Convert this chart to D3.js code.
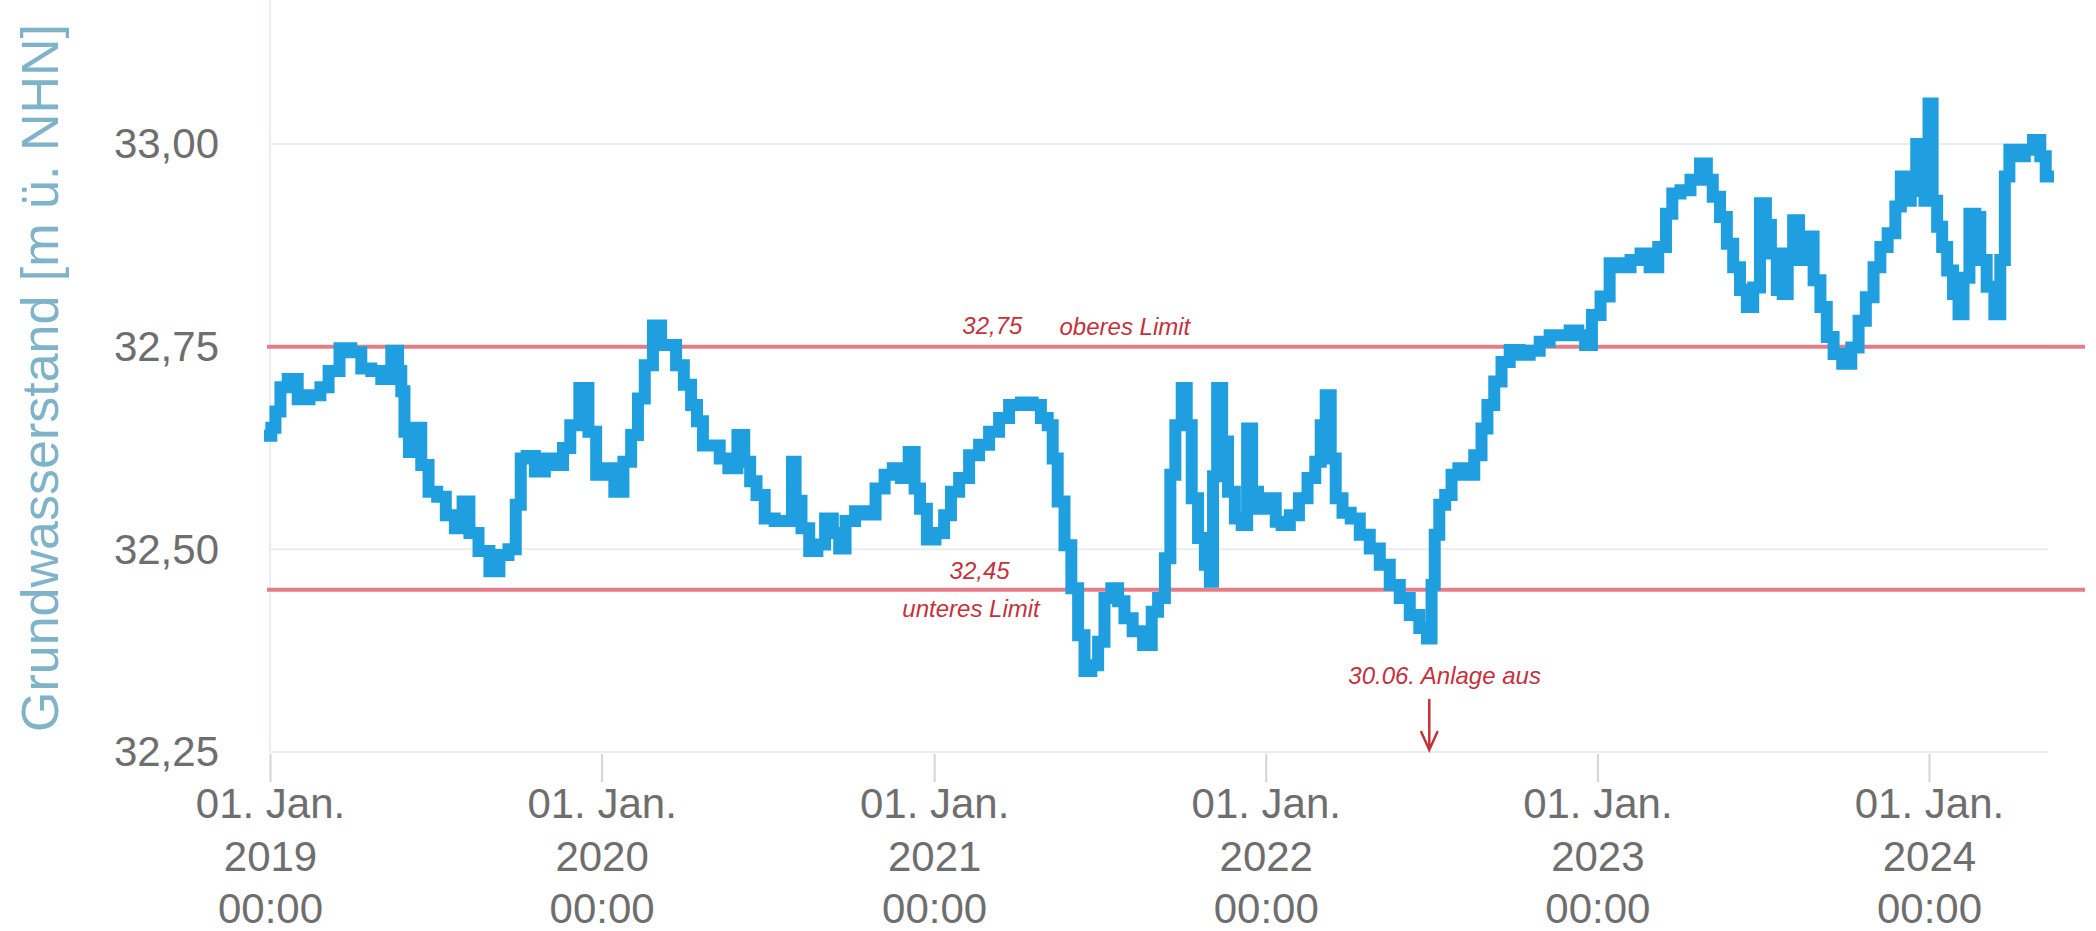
<!DOCTYPE html>
<html>
<head>
<meta charset="utf-8">
<script src="https://cdn.jsdelivr.net/npm/d3@7"></script>
<style>
  body { margin: 0; background: #fff; }
  svg { display: block; }
</style>
</head>
<body>
<svg></svg>
<script>
const width = 2096;
const height = 931;

const dates = [
  "2019-01-01","2019-01-04","2019-01-10","2019-01-15","2019-01-26","2019-02-06","2019-02-21","2019-03-02",
  "2019-03-11","2019-03-26","2019-04-06","2019-04-17","2019-04-28","2019-05-09","2019-05-20","2019-05-24",
  "2019-05-27","2019-05-31","2019-06-06","2019-06-13","2019-06-20","2019-06-29","2019-07-09","2019-07-18",
  "2019-07-29","2019-08-04","2019-08-13","2019-08-24","2019-09-06","2019-09-15","2019-09-26","2019-10-01",
  "2019-10-07","2019-10-14","2019-10-25","2019-11-05","2019-11-16","2019-11-23","2019-12-02","2019-12-13",
  "2019-12-22","2019-12-30",
  "2020-01-10","2020-01-20","2020-01-30","2020-02-06","2020-02-14","2020-02-21","2020-03-03","2020-03-10",
  "2020-03-19","2020-03-27","2020-04-05","2020-04-12","2020-04-18","2020-04-25","2020-05-06","2020-05-14",
  "2020-05-25","2020-06-03","2020-06-09","2020-06-16","2020-06-23","2020-07-04","2020-07-15","2020-07-27",
  "2020-07-30","2020-08-04","2020-08-12","2020-08-21","2020-08-30","2020-09-07","2020-09-16","2020-09-21",
  "2020-09-30","2020-10-12","2020-10-23","2020-11-03","2020-11-12","2020-11-21","2020-11-30","2020-12-08",
  "2020-12-13","2020-12-20","2020-12-28",
  "2021-01-08","2021-01-16","2021-01-23","2021-02-03","2021-02-14","2021-02-25","2021-03-08","2021-03-19",
  "2021-03-30","2021-04-14","2021-04-25","2021-05-02","2021-05-10","2021-05-13","2021-05-21","2021-05-28",
  "2021-06-05","2021-06-12","2021-06-19","2021-06-27","2021-07-04","2021-07-11","2021-07-19","2021-07-26",
  "2021-08-02","2021-08-13","2021-08-25","2021-09-01","2021-09-08","2021-09-16","2021-09-20","2021-09-27",
  "2021-10-04","2021-10-08","2021-10-15","2021-10-22","2021-10-30","2021-11-02","2021-11-06","2021-11-11",
  "2021-11-17","2021-11-24","2021-12-02","2021-12-09","2021-12-14","2021-12-20","2021-12-27",
  "2022-01-02","2022-01-09","2022-01-15","2022-01-22","2022-02-02","2022-02-11","2022-02-21","2022-02-28",
  "2022-03-05","2022-03-11","2022-03-16","2022-03-22","2022-03-31","2022-04-09","2022-04-20","2022-05-01",
  "2022-05-12","2022-05-23","2022-06-03","2022-06-14","2022-06-24","2022-07-01","2022-07-04","2022-07-08",
  "2022-07-14","2022-07-21","2022-07-28","2022-08-05","2022-08-14","2022-08-23","2022-08-30","2022-09-05",
  "2022-09-14","2022-09-21","2022-10-02","2022-10-13","2022-10-24","2022-11-04","2022-11-15","2022-11-26",
  "2022-12-07","2022-12-15","2022-12-22","2022-12-30",
  "2023-01-10","2023-01-19","2023-02-01","2023-02-12","2023-02-23","2023-03-04","2023-03-14","2023-03-21",
  "2023-03-28","2023-04-08","2023-04-19","2023-04-29","2023-05-04","2023-05-12","2023-05-20","2023-05-27",
  "2023-06-03","2023-06-11","2023-06-18","2023-06-25","2023-07-03","2023-07-08","2023-07-14","2023-07-21",
  "2023-07-27","2023-08-01","2023-08-08","2023-08-14","2023-08-23","2023-08-31","2023-09-07","2023-09-14",
  "2023-09-22","2023-10-03","2023-10-12","2023-10-19","2023-10-28","2023-11-05","2023-11-12","2023-11-21",
  "2023-11-29","2023-12-03","2023-12-09","2023-12-15","2023-12-21","2023-12-25","2023-12-29",
  "2024-01-03","2024-01-07","2024-01-13","2024-01-18","2024-01-24","2024-01-31","2024-02-05","2024-02-11",
  "2024-02-18","2024-02-24","2024-02-29","2024-03-09","2024-03-17","2024-03-22","2024-03-27","2024-04-01",
  "2024-04-11","2024-04-20","2024-04-29","2024-05-06","2024-05-11"
];

const levels = [
  32.640,32.650,32.670,32.700,32.710,32.685,32.690,32.700,
  32.720,32.748,32.743,32.723,32.720,32.710,32.745,32.720,
  32.695,32.645,32.620,32.650,32.604,32.571,32.565,32.542,
  32.526,32.559,32.520,32.498,32.473,32.493,32.500,32.555,
  32.612,32.615,32.596,32.612,32.604,32.625,32.653,32.699,
  32.645,32.592,
  32.600,32.571,32.608,32.641,32.686,32.727,32.776,32.752,
  32.752,32.727,32.703,32.678,32.658,32.628,32.628,32.612,
  32.600,32.641,32.608,32.584,32.567,32.538,32.535,32.535,
  32.608,32.560,32.526,32.498,32.506,32.538,32.520,32.501,
  32.535,32.547,32.543,32.575,32.592,32.600,32.588,32.620,
  32.575,32.550,32.512,
  32.520,32.542,32.571,32.588,32.616,32.629,32.645,32.662,
  32.678,32.681,32.678,32.662,32.653,32.612,32.559,32.505,
  32.452,32.394,32.350,32.357,32.386,32.440,32.452,32.436,
  32.415,32.399,32.382,32.423,32.440,32.489,32.592,32.653,
  32.699,32.653,32.563,32.514,32.481,32.460,32.590,32.699,
  32.633,32.571,32.538,32.530,32.649,32.571,32.550,
  32.550,32.563,32.534,32.530,32.542,32.563,32.588,32.608,
  32.653,32.690,32.612,32.563,32.545,32.538,32.518,32.501,
  32.481,32.456,32.440,32.419,32.403,32.390,32.456,32.518,
  32.555,32.567,32.592,32.600,32.592,32.616,32.649,32.678,
  32.707,32.731,32.746,32.740,32.745,32.756,32.764,32.764,
  32.770,32.764,32.752,32.789,
  32.812,32.853,32.848,32.857,32.865,32.848,32.873,32.914,
  32.939,32.943,32.956,32.976,32.956,32.935,32.910,32.877,
  32.848,32.820,32.799,32.823,32.927,32.900,32.865,32.820,
  32.815,32.865,32.906,32.857,32.886,32.832,32.799,32.762,
  32.741,32.729,32.749,32.782,32.811,32.848,32.873,32.890,
  32.923,32.960,32.930,32.942,33.000,32.960,32.930,
  33.050,32.930,32.898,32.873,32.844,32.815,32.790,32.835,
  32.914,32.910,32.857,32.824,32.790,32.857,32.960,32.993,
  32.985,32.993,33.005,32.985,32.960
];

const yTicks = [32.25, 32.50, 32.75, 33.00];
const limitValues = [32.75, 32.45];
const limitNames = ["oberes Limit", "unteres Limit"];
const switchOffDate = "2022-06-30";
const switchOffText = "30.06. Anlage aus";
const yTitle = "Grundwasserstand [m ü. NHN]";

const de = d3.formatLocale({ decimal: ",", thousands: ".", grouping: [3], currency: ["", " €"] });
const fmt = de.format(".2f");
const parse = d3.timeParse("%Y-%m-%d");
const data = dates.map((d, i) => ({ date: parse(d), value: levels[i] }));

const svg = d3.select("svg").attr("width", width).attr("height", height);

const x = d3.scaleTime()
  .domain(d3.extent(data, d => d.date))
  .range([270, 2048]);

const y = d3.scaleLinear()
  .domain([32.25, 33.00])
  .range([752, 144]);

const gridColor = "#e6eef2";
const labelColor = "#6e6e6e";
const noteColor = "#c4323c";

// horizontal grid
svg.append("g")
  .selectAll("line")
  .data(yTicks)
  .join("line")
  .attr("x1", x.range()[0])
  .attr("x2", x.range()[1])
  .attr("y1", d => y(d))
  .attr("y2", d => y(d))
  .attr("stroke", gridColor)
  .attr("stroke-width", 2);

// left plot border
svg.append("line")
  .attr("x1", x.range()[0]).attr("x2", x.range()[0])
  .attr("y1", 0).attr("y2", y(32.25))
  .attr("stroke", gridColor)
  .attr("stroke-width", 2);

// y axis labels
const yAxis = d3.axisLeft(y).tickValues(yTicks).tickSize(0).tickPadding(0).tickFormat(fmt);
svg.append("g")
  .attr("transform", "translate(219,0)")
  .call(yAxis)
  .call(g => g.select(".domain").remove())
  .call(g => g.selectAll("text")
    .attr("fill", labelColor)
    .attr("font-family", "Liberation Sans, Arial, sans-serif")
    .attr("font-size", 42)
    .attr("dy", "0.33em"));

svg.append("text")
  .attr("transform", "translate(58," + 378 + ") rotate(-90)")
  .attr("text-anchor", "middle")
  .attr("font-family", "Liberation Sans, Arial, sans-serif")
  .attr("font-size", 52)
  .attr("fill", "#7fb3c9")
  .text(yTitle);

// x axis
const yearTicks = d3.timeYear.range(d3.timeYear.ceil(x.domain()[0]), x.domain()[1]);
const xAxis = d3.axisBottom(x).tickValues(yearTicks).tickSize(28).tickFormat("");
const xg = svg.append("g")
  .attr("transform", "translate(0,754)")
  .call(xAxis);
xg.select(".domain").remove();
xg.selectAll(".tick line").attr("stroke", "#d4d4d4").attr("stroke-width", 2);
xg.selectAll(".tick").each(function (d) {
  const t = d3.select(this).append("text")
    .attr("text-anchor", "middle")
    .attr("fill", labelColor)
    .attr("font-family", "Liberation Sans, Arial, sans-serif")
    .attr("font-size", 42);
  const lines = [d3.timeFormat("%d.")(d) + " Jan.", d3.timeFormat("%Y")(d), d3.timeFormat("%H:%M")(d)];
  lines.forEach((s, i) => {
    t.append("tspan").attr("x", 0).attr("y", 64 + i * 52.5).text(s);
  });
});

// limit lines
svg.append("g")
  .selectAll("line")
  .data(limitValues)
  .join("line")
  .attr("x1", x.range()[0] - 3)
  .attr("x2", 2085)
  .attr("y1", d => y(d))
  .attr("y2", d => y(d))
  .attr("stroke", "#e2707c")
  .attr("stroke-width", 4)
  .attr("opacity", 0.9);

// groundwater line (stepped like the logger print)
const line = d3.line()
  .curve(d3.curveStep)
  .x(d => x(d.date))
  .y(d => y(d.value));

svg.append("path")
  .datum(data)
  .attr("fill", "none")
  .attr("stroke", "#1f9fe0")
  .attr("stroke-width", 12)
  .attr("stroke-linejoin", "miter")
  .attr("stroke-linecap", "square")
  .attr("d", line);

// handwritten notes
const note = (tx, ty, s) => svg.append("text")
  .attr("x", tx).attr("y", ty)
  .attr("fill", noteColor)
  .attr("font-family", "Liberation Sans, Arial, sans-serif")
  .attr("font-size", 24)
  .attr("font-style", "italic")
  .text(s);

note(x(parse("2021-02-01")), y(limitValues[0]) - 13, fmt(limitValues[0]));
note(x(parse("2021-05-19")), y(limitValues[0]) - 12, limitNames[0]);
note(x(parse("2021-01-18")), y(limitValues[1]) - 11, fmt(limitValues[1]));
note(x(parse("2020-11-27")), y(limitValues[1]) + 27, limitNames[1]);

const ax = x(parse(switchOffDate));
note(ax - 81, 684, switchOffText);
svg.append("path")
  .attr("d", `M${ax},700 L${ax},749 M${ax - 8},732 L${ax},750 L${ax + 8},732`)
  .attr("fill", "none")
  .attr("stroke", noteColor)
  .attr("stroke-width", 2.5)
  .attr("stroke-linecap", "round");
</script>
</body>
</html>
